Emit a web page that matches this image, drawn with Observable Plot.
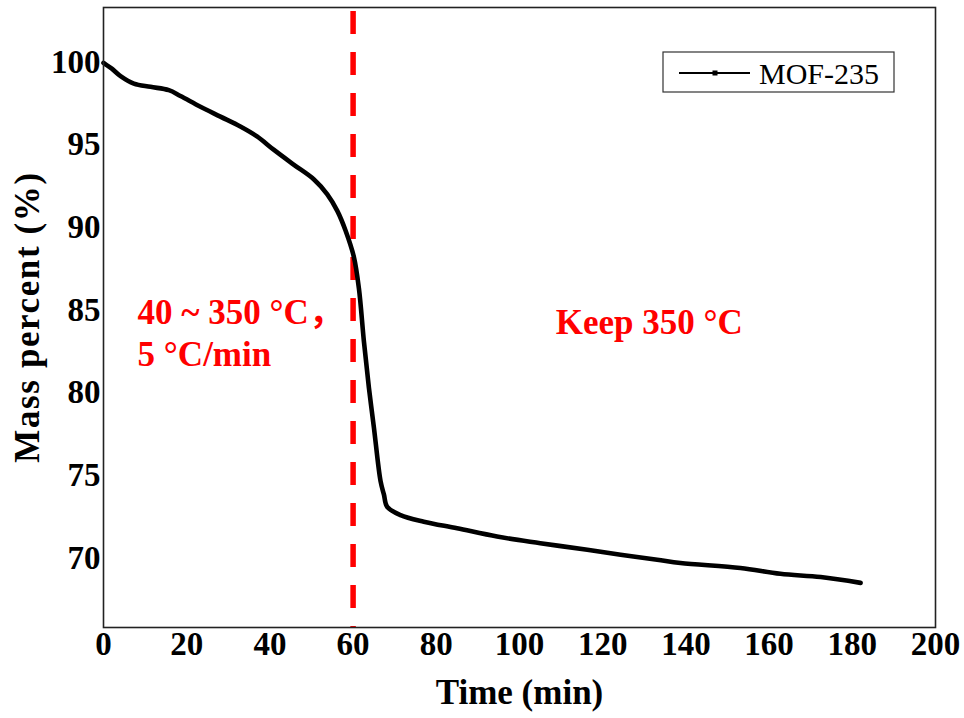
<!DOCTYPE html>
<html>
<head>
<meta charset="utf-8">
<script src="https://cdn.jsdelivr.net/npm/d3@7"></script>
<script src="https://cdn.jsdelivr.net/npm/@observablehq/plot@0.6"></script>
<style>
  html, body { margin: 0; padding: 0; background: #fff; }
  #chart { width: 964px; height: 718px; }
</style>
</head>
<body>
<div id="chart"></div>
<script>
// ---- data ----
const time = [0, 0.5, 2, 4.1, 7.3, 11.3, 15.7, 18.5, 23.3, 28.1, 32.9, 36.9, 40.9, 45.7, 50.6, 53.8, 56.2, 58.2, 60.2, 61.4, 62.6, 63.8, 65.0, 66.6, 67.4, 68.2, 71.4, 77.0, 85.0, 94.6, 105.0, 116.3, 124.3, 133.1, 138.7, 153.1, 162.7, 172.4, 182.0];
const mass = [99.95, 99.86, 99.6, 99.15, 98.7, 98.5, 98.3, 97.95, 97.3, 96.7, 96.1, 95.5, 94.7, 93.8, 92.9, 92.0, 91.0, 89.8, 88.2, 86.3, 83.1, 80.3, 77.9, 74.65, 73.85, 73.1, 72.6, 72.2, 71.8, 71.3, 70.9, 70.5, 70.2, 69.9, 69.7, 69.4, 69.05, 68.85, 68.5];
const seriesName = "MOF-235";
const xTicks = [0, 20, 40, 60, 80, 100, 120, 140, 160, 180, 200];
const yTicks = [70, 75, 80, 85, 90, 95, 100];
const stageBoundary = [60];
const noteText = ["40 ~ 350 °C，", "5 °C/min", "Keep 350 °C"];
const noteX = [8.2, 8.2, 108.7];
const noteY = [84.83, 82.29, 84.22];
const xLabel = "Time (min)";
const yLabel = "Mass percent (%)";

const data = time.map((t, i) => ({time: t, mass: mass[i]}));
const notes = noteText.map((s, i) => ({text: s, x: noteX[i], y: noteY[i]}));

const font = "'Liberation Serif', 'Times New Roman', 'Noto Sans CJK SC', serif";

const chart = Plot.plot({
  width: 964,
  height: 718,
  marginLeft: 103,
  marginRight: 29,
  marginTop: 7,
  marginBottom: 91,
  style: {fontFamily: font, background: "#fff", color: "#000", overflow: "visible"},
  x: {domain: [0, 200], ticks: xTicks},
  y: {domain: [65.8, 103.3], ticks: yTicks},
  marks: [
    Plot.axisX(xTicks, {tickSize: 0, tickPadding: 4, fontSize: 33, fontWeight: "bold", label: null}),
    Plot.axisY(yTicks, {tickSize: 0, tickPadding: 3, fontSize: 33, fontWeight: "bold", label: null}),
    Plot.ruleX(stageBoundary, {stroke: "#ff0000", strokeWidth: 5.5, strokeDasharray: "23,18", strokeDashoffset: -4}),
    Plot.line(data, {x: "time", y: "mass", stroke: "#000", strokeWidth: 4.6, curve: "catmull-rom"}),
    Plot.text(notes, {x: "x", y: "y", text: "text", textAnchor: "start", lineAnchor: "middle", fill: "#ff0000", fontSize: 35, fontWeight: "bold"}),
    Plot.text([xLabel], {frameAnchor: "bottom", dy: 65.5, lineAnchor: "middle", textAnchor: "middle", text: d => d, fontSize: 35, fontWeight: "bold", fill: "#000"}),
    Plot.frame({stroke: "#222", strokeWidth: 1.6})
  ]
});

const svg = d3.select(chart);

// y-axis title
svg.append("text")
  .attr("transform", "translate(28,317) rotate(-90)")
  .attr("text-anchor", "middle")
  .attr("dy", "0.32em")
  .attr("font-family", font)
  .attr("font-size", 35)
  .attr("font-weight", "bold")
  .attr("letter-spacing", 1.6)
  .attr("fill", "#000")
  .text(yLabel);

// legend box (top-right inside the frame)
const lg = svg.append("g").attr("font-family", font);
lg.append("rect").attr("x", 663).attr("y", 52).attr("width", 231).attr("height", 40)
  .attr("fill", "#fff").attr("stroke", "#333").attr("stroke-width", 1.2);
lg.append("line").attr("x1", 679).attr("x2", 750).attr("y1", 73).attr("y2", 73)
  .attr("stroke", "#000").attr("stroke-width", 2);
lg.append("rect").attr("x", 712.5).attr("y", 70.5).attr("width", 5).attr("height", 5).attr("fill", "#000");
lg.append("text").attr("x", 759).attr("y", 84).attr("text-anchor", "start")
  .attr("font-size", 30).attr("fill", "#000").text(seriesName);

document.getElementById("chart").appendChild(chart);
</script>
</body>
</html>
